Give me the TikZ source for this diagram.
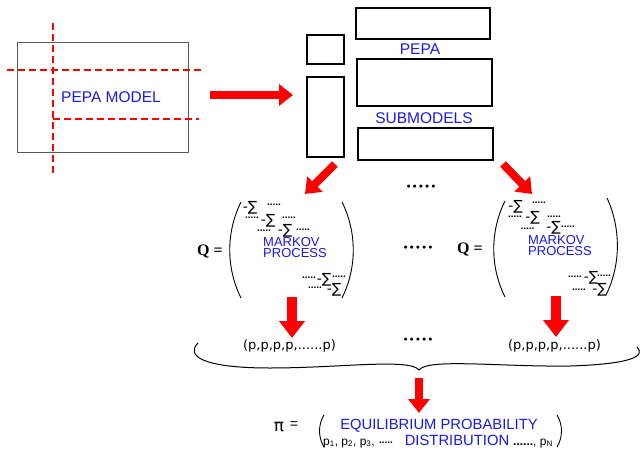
\documentclass[tikz,border=0pt]{standalone}
\usepackage{fontspec}
\setmainfont{Liberation Sans}
\newfontfamily\dvsans{DejaVu Sans}
\newfontfamily\lserif{Liberation Serif}
\usetikzlibrary{arrows.meta}
\definecolor{txtblue}{RGB}{25,25,230}
\definecolor{arrred}{RGB}{255,0,0}
\begin{document}
\begin{tikzpicture}[x=1pt,y=-1pt,
  bluetxt/.style={text=txtblue, inner sep=0pt},
  modelbox/.style={draw=black!65, line width=1pt, inner sep=0pt},
  subbox/.style={draw=black, line width=1.6pt, inner sep=0pt},
  cut/.style={draw=arrred, line width=1.3pt, dash pattern=on 7pt off 4pt},
  bigarrow/.style={draw=arrred, line width=8pt, -{Triangle[width=21pt,length=14pt]}},
  downarrow/.style={draw=arrred, line width=10pt, -{Triangle[width=25pt,length=17pt]}},
  paren/.style={draw=black, line width=0.9pt},
  sig/.style={font=\dvsans\fontsize{14}{14}\selectfont, inner sep=0pt},
  dts/.style={font=\fontsize{10}{10}\selectfont\bfseries, inner sep=0pt},
  bul/.style={font=\dvsans\fontsize{10.5}{10.5}\selectfont, inner sep=0pt},
  qlab/.style={font=\lserif\bfseries\fontsize{16}{16}\selectfont, inner sep=0pt},
  mk/.style={bluetxt, font=\fontsize{13}{13}\selectfont, align=left},
  pvec/.style={font=\dvsans\fontsize{13}{13}\selectfont, inner sep=0pt},
  eqtxt/.style={bluetxt, font=\fontsize{14.8}{14.8}\selectfont},
  ptxt/.style={font=\fontsize{12}{12}\selectfont, inner sep=0pt}
]
\useasboundingbox (0,0) rectangle (641,450);
\fill[white] (0,0) rectangle (641,450);

% PEPA model
\node[modelbox, minimum width=171pt, minimum height=110pt] (model) at (102.5,97) {};
\draw[cut] (53,23) -- (53,175);
\draw[cut] (7,70) -- (202,70);
\draw[cut] (53,119) -- (199,119);
\node[bluetxt, font=\fontsize{15.5}{15.5}\selectfont] (modeltxt) at (111,97) {PEPA MODEL};

% submodels
\node[subbox, minimum width=37pt, minimum height=29pt] (sq) at (325.5,49.5) {};
\node[subbox, minimum width=37pt, minimum height=80pt] (tall) at (325.5,117) {};
\node[subbox, minimum width=134pt, minimum height=31pt] (top) at (423,23.5) {};
\node[subbox, minimum width=135pt, minimum height=47pt] (mid) at (424.5,82.5) {};
\node[subbox, minimum width=135pt, minimum height=32pt] (bot) at (425.5,144) {};
\node[bluetxt, font=\fontsize{15.5}{15.5}\selectfont] (pepa) at (420,49) {PEPA};
\node[bluetxt, font=\fontsize{15.5}{15.5}\selectfont] (subm) at (424,118.5) {SUBMODELS};

% arrows top
\coordinate (a1s) at (210,95);
\coordinate (a1e) at (293,95);
\draw[bigarrow] (a1s) -- (a1e);
\coordinate (a2s) at (335,164);
\coordinate (a2e) at (305,194);
\draw[bigarrow] (a2s) -- (a2e);
\coordinate (a3s) at (503,164);
\coordinate (a3e) at (532,194);
\draw[bigarrow] (a3s) -- (a3e);
\node[bul] (dotsA) at (421,188) {•••••};

% left Q
\node[qlab] (q1) at (210,251) {Q =};
\draw[paren] (241,202) .. controls (226,232) and (226,268) .. (241,298);
\draw[paren] (342,202) .. controls (357,232) and (357,268) .. (342,298);
\node[sig] (l1a) at (250,208) {-∑};
\node[dts] (l1b) at (274,205) {.....};
\node[dts] (l2a) at (252,218) {.....};
\node[sig] (l2b) at (268,221) {-∑};
\node[dts] (l2c) at (289,218) {.....};
\node[dts] (l3a) at (264,231) {.....};
\node[sig] (l3b) at (285,231) {-∑};
\node[dts] (l3c) at (303,230) {.....};
\node[mk, anchor=north west, inner sep=0pt] (lmk) at (263,237) {MARKOV\\[-1.5pt]PROCESS};
\node[dts] (l4a) at (309,278) {.....};
\node[sig] (l4b) at (324,279.5) {-∑};
\node[dts] (l4c) at (339,277) {.....};
\node[dts] (l5a) at (315,288) {.....};
\node[sig] (l5b) at (334,290) {-∑};

% middle dots
\node[bul] (dotsB) at (418,249) {•••••};

% right Q
\node[qlab] (q2) at (470,249) {Q =};
\draw[paren] (505,201) .. controls (490,231) and (490,267) .. (505,297);
\draw[paren] (607,198) .. controls (621,228) and (621,265) .. (606,295);
\node[sig] (r1a) at (515.5,207) {-∑};
\node[dts] (r1b) at (539,203) {.....};
\node[dts] (r2a) at (515,217) {.....};
\node[sig] (r2b) at (532.5,218) {-∑};
\node[dts] (r2c) at (554,217) {.....};
\node[dts] (r3a) at (527.5,229) {.....};
\node[sig] (r3b) at (553.5,228) {-∑};
\node[dts] (r3c) at (568,227) {.....};
\node[mk, anchor=north west, inner sep=0pt] (rmk) at (528,235) {MARKOV\\[-1.5pt]PROCESS};
\node[dts] (r4a) at (575,277) {.....};
\node[sig] (r4b) at (591,278) {-∑};
\node[dts] (r4c) at (604,276) {.....};
\node[dts] (r5a) at (579,290) {.....};
\node[sig] (r5b) at (599.5,290) {-∑};

% down arrows
\coordinate (d1s) at (292,297);
\coordinate (d1e) at (292,338);
\draw[downarrow] (d1s) -- (d1e);
\coordinate (d2s) at (556,296);
\coordinate (d2e) at (556,337);
\draw[downarrow] (d2s) -- (d2e);

% vectors
\node[pvec] (pv1) at (289.5,346) {(p,p,p,p,......p)};
\node[pvec] (pv2) at (554.5,346) {(p,p,p,p,......p)};
\node[bul] (dotsC) at (418,341) {•••••};

% brace
\draw[line width=1pt] (198,343) .. controls (186,355) and (200,368) .. (270,368)
  .. controls (340,368) and (410,358) .. (419,370)
  .. controls (428,358) and (500,367) .. (570,366)
  .. controls (632,364) and (646,356) .. (637,347);

% bottom arrow
\coordinate (b1s) at (419,378);
\coordinate (b1e) at (419,413);
\draw[bigarrow] (b1s) -- (b1e);

% equilibrium distribution
\node[font=\dvsans\fontsize{17}{17}\selectfont, inner sep=0pt] (pi) at (279,427) {π};
\node[font=\fontsize{14}{14}\selectfont, inner sep=0pt] (eq) at (294,425) {=};
\draw[paren] (324,415) .. controls (318,425) and (318,437) .. (324,447);
\draw[paren] (557,415) .. controls (563,425) and (563,437) .. (557,447);
\node[eqtxt, inner sep=0pt] (eqp) at (439,425.5) {EQUILIBRIUM PROBABILITY};
\node[ptxt, anchor=base west] (pps) at (323,445) {p\textsubscript{1}, p\textsubscript{2}, p\textsubscript{3},};
\node[dts, anchor=base] (pdots) at (386,443) {.....};
\node[eqtxt, anchor=base, inner sep=0pt] (dist) at (457,445) {DISTRIBUTION};
\node[ptxt, anchor=base west] (pN) at (513,445) {\textbf{......}, p\textsubscript{N}};
\end{tikzpicture}
\end{document}
